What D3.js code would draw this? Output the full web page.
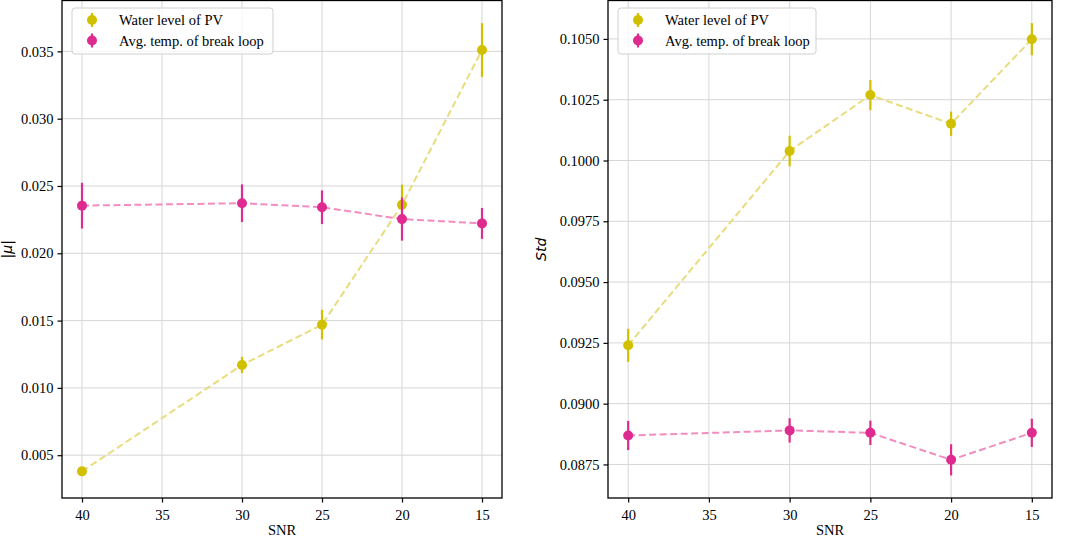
<!DOCTYPE html>
<html lang="en">
<head>
  <meta charset="UTF-8">
  <title>SNR error bars</title>
  <script src="https://d3js.org/d3.v7.min.js"></script>
  <style>
    body { margin: 0; background: #fff; }
    svg { display: block; font-family: "Liberation Serif", "Times New Roman", serif; }
    .grid line { stroke: #d6d6d6; stroke-width: 1; }
  </style>
</head>
<body>
  <div id="chart"></div>
  <script>
    const snr = [40, 30, 25, 20, 15];
    const xTicks = [40, 35, 30, 25, 20, 15];

    const muWater = [0.0038, 0.0117, 0.0147, 0.0236, 0.0351];
    const muWaterErr = [0.0003, 0.0006, 0.0011, 0.0015, 0.0020];
    const muTemp = [0.02354, 0.02372, 0.02342, 0.02254, 0.02222];
    const muTempErr = [0.0017, 0.0014, 0.00125, 0.0016, 0.00115];
    const muTicks = [0.005, 0.010, 0.015, 0.020, 0.025, 0.030, 0.035];

    const stdWater = [0.0924, 0.10039, 0.10269, 0.10151, 0.10499];
    const stdWaterErr = [0.00068, 0.00063, 0.00062, 0.0005, 0.00066];
    const stdTemp = [0.08869, 0.0889, 0.0888, 0.08769, 0.0888];
    const stdTempErr = [0.0006, 0.0005, 0.0005, 0.00064, 0.00058];
    const stdTicks = [0.0875, 0.0900, 0.0925, 0.0950, 0.0975, 0.1000, 0.1025, 0.1050];

    const seriesNames = ['Water level of PV', 'Avg. temp. of break loop'];
    const markerColors = ['#d1c000', '#df2a8f'];
    const lineColors = ['#e8dc7e', '#f38cc0'];

    const serif = '"Liberation Serif", "Times New Roman", serif';
    const W = 1065, H = 539;
    const svg = d3.select('#chart').append('svg').attr('width', W).attr('height', H);

    function styleAxis(a) {
      a.select('.domain').remove();
      a.selectAll('.tick line').attr('stroke-width', 1.2);
      a.selectAll('.tick text')
        .style('font-family', serif)
        .style('font-size', '14.5px')
        .attr('fill', '#000');
    }

    function drawPanel(opt) {
      const { left, right, top, bottom } = opt;
      const x = d3.scaleLinear().domain([41.25, 13.75]).range([left, right]);

      // matplotlib-like autoscale with 5% margins
      let lo = Infinity, hi = -Infinity;
      opt.series.forEach(s => s.vals.forEach((v, i) => {
        lo = Math.min(lo, v - s.err[i]);
        hi = Math.max(hi, v + s.err[i]);
      }));
      const pad = (hi - lo) * 0.05;
      const y = d3.scaleLinear().domain([lo - pad, hi + pad]).range([bottom, top]);

      const g = svg.append('g');

      // grid
      const grid = g.append('g').attr('class', 'grid');
      grid.selectAll('line.v').data(xTicks).join('line')
        .attr('x1', d => x(d)).attr('x2', d => x(d))
        .attr('y1', top).attr('y2', bottom);
      grid.selectAll('line.h').data(opt.yTicks).join('line')
        .attr('x1', left).attr('x2', right)
        .attr('y1', d => y(d)).attr('y2', d => y(d));

      // axes
      g.append('g')
        .attr('transform', `translate(0,${bottom})`)
        .call(d3.axisBottom(x).tickValues(xTicks).tickSize(4.5).tickPadding(7).tickFormat(d3.format('d')))
        .call(styleAxis);
      g.append('g')
        .attr('transform', `translate(${left},0)`)
        .call(d3.axisLeft(y).tickValues(opt.yTicks).tickSize(4.5).tickPadding(4).tickFormat(d3.format(opt.fmt)))
        .call(styleAxis);

      // series
      opt.series.forEach((s, k) => {
        const pts = snr.map((d, i) => ({ x: d, v: s.vals[i], e: s.err[i] }));
        g.append('path')
          .datum(pts)
          .attr('fill', 'none')
          .attr('stroke', lineColors[k])
          .attr('stroke-width', 2)
          .attr('stroke-dasharray', '7,3.5')
          .attr('d', d3.line().x(d => x(d.x)).y(d => y(d.v)));
        g.append('g').selectAll('line').data(pts).join('line')
          .attr('x1', d => x(d.x)).attr('x2', d => x(d.x))
          .attr('y1', d => y(d.v - d.e)).attr('y2', d => y(d.v + d.e))
          .attr('stroke', markerColors[k]).attr('stroke-width', 2.2);
        g.append('g').selectAll('circle').data(pts).join('circle')
          .attr('cx', d => x(d.x)).attr('cy', d => y(d.v)).attr('r', 5)
          .attr('fill', markerColors[k]);
      });

      // frame
      g.append('rect')
        .attr('x', left).attr('y', top)
        .attr('width', right - left).attr('height', bottom - top)
        .attr('fill', 'none').attr('stroke', '#000').attr('stroke-width', 1.3);

      // x label
      g.append('text')
        .attr('x', (left + right) / 2).attr('y', bottom + 37)
        .attr('text-anchor', 'middle')
        .style('font-family', serif)
        .style('font-size', '14.5px')
        .text('SNR');

      // y label
      g.append('text')
        .attr('transform', `translate(${opt.yLabelX},${(top + bottom) / 2}) rotate(-90)`)
        .attr('text-anchor', 'middle')
        .style('font-family', '"DejaVu Sans", sans-serif')
        .style('font-style', 'italic')
        .style('font-size', '14px')
        .text(opt.yLabel);

      // legend
      const lg = g.append('g').attr('transform', `translate(${left + 10},8)`);
      lg.append('rect')
        .attr('width', opt.legendW).attr('height', 46).attr('rx', 3)
        .attr('fill', 'rgba(255,255,255,0.8)')
        .attr('stroke', '#d0d0d0').attr('stroke-width', 1);
      seriesNames.forEach((name, k) => {
        const ry = 12 + k * 20.5;
        lg.append('line')
          .attr('x1', 20).attr('x2', 20).attr('y1', ry - 7).attr('y2', ry + 7)
          .attr('stroke', markerColors[k]).attr('stroke-width', 2.2);
        lg.append('circle').attr('cx', 20).attr('cy', ry).attr('r', 5).attr('fill', markerColors[k]);
        lg.append('text')
          .attr('x', 47).attr('y', ry).attr('dy', '0.35em')
          .style('font-family', serif)
          .style('font-size', '14.5px')
          .text(name);
      });
    }

    drawPanel({
      left: 62, right: 502, top: 0.5, bottom: 498, legendW: 201,
      yTicks: muTicks, fmt: '.3f', yLabel: '|μ|', yLabelX: 12,
      series: [{ vals: muWater, err: muWaterErr }, { vals: muTemp, err: muTempErr }]
    });
    drawPanel({
      left: 608, right: 1052, top: 0.5, bottom: 498, legendW: 198,
      yTicks: stdTicks, fmt: '.4f', yLabel: 'Std', yLabelX: 546,
      series: [{ vals: stdWater, err: stdWaterErr }, { vals: stdTemp, err: stdTempErr }]
    });
  </script>
</body>
</html>
